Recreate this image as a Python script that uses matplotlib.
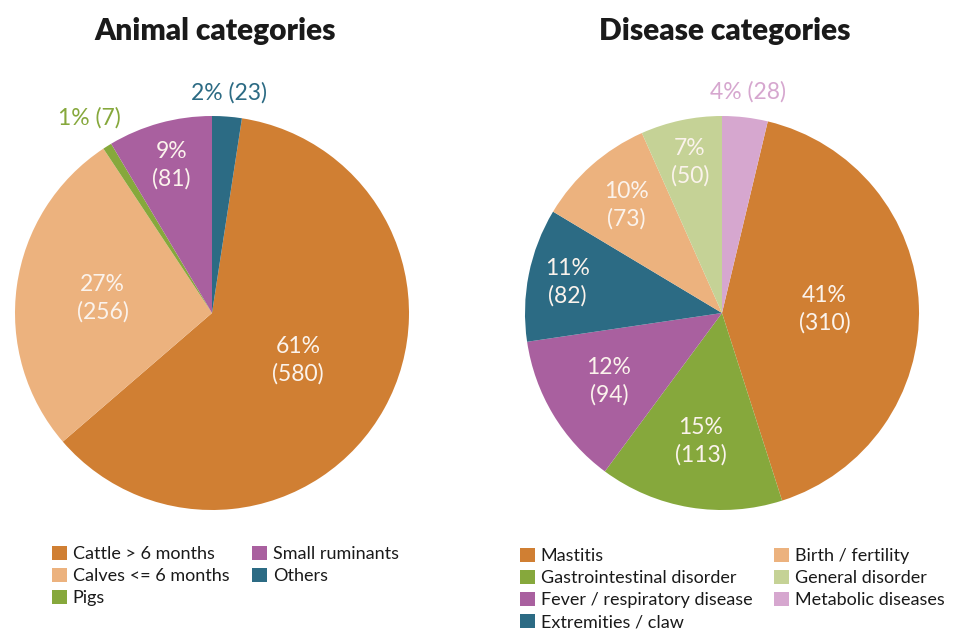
import numpy as np
import matplotlib
matplotlib.use("Agg")
import matplotlib.pyplot as plt

plt.rcParams['font.family'] = ['Lato', 'DejaVu Sans']

# ---- data ----
animal_labels = ["Cattle > 6 months", "Calves <= 6 months", "Pigs", "Small ruminants", "Others"]
animal_counts = [580, 256, 7, 81, 23]
animal_pcts = [61, 27, 1, 9, 2]

disease_labels = ["Mastitis", "Gastrointestinal disorder", "Fever / respiratory disease",
                  "Extremities / claw", "Birth / fertility", "General disorder", "Metabolic diseases"]
disease_counts = [310, 113, 94, 82, 73, 50, 28]
disease_pcts = [41, 15, 12, 11, 10, 7, 4]

# ---- styles ----
ORANGE = "#D07F33"
LORANGE = "#ECB27E"
GREEN = "#86A83C"
MAGENTA = "#A9609F"
TEAL = "#2C6B84"
LGREEN = "#C5D296"
PINK = "#D6A7CF"
WHITE = "#FBF3EC"

animal_colors = [ORANGE, LORANGE, GREEN, MAGENTA, TEAL]
animal_dist = [0.50, 0.56, 1.17, 0.78, 1.12]
animal_outside = [False, False, True, False, True]

disease_colors = [ORANGE, GREEN, MAGENTA, TEAL, LORANGE, LGREEN, PINK]
disease_dist = [0.52, 0.66, 0.67, 0.80, 0.73, 0.78, 1.13]
disease_outside = [False, False, False, False, False, False, True]

W, H = 955, 630
fig = plt.figure(figsize=(W / 100, H / 100), dpi=100)
fig.patch.set_facecolor("white")

R = 197


def make_ax(cx, cy):
    return fig.add_axes([(cx - R) / W, (H - cy - R) / H, 2 * R / W, 2 * R / H])


def draw_pie(ax, counts, pcts, colors, dist, outside, last_count_first):
    total = sum(counts)
    start = 90 - last_count_first / total * 360
    wedges, _ = ax.pie(counts, colors=colors, startangle=start, counterclock=False,
                       radius=1.0, wedgeprops=dict(linewidth=0))
    for w, n, p, d, out, c in zip(wedges, counts, pcts, dist, outside, colors):
        mid = np.deg2rad((w.theta1 + w.theta2) / 2)
        x, y = d * np.cos(mid), d * np.sin(mid)
        if out:
            ax.text(x, y, f"{p}% ({n})", ha="center", va="center", fontsize=16.5,
                    color=c, linespacing=1.3)
        else:
            ax.text(x, y, f"{p}%\n({n})", ha="center", va="center", fontsize=16.5,
                    color=WHITE, linespacing=1.35)
    ax.set_xlim(-1, 1)
    ax.set_ylim(-1, 1)
    ax.set_aspect("equal")
    ax.axis("off")
    return wedges


ax1 = make_ax(212, 313)
w1 = draw_pie(ax1, animal_counts, animal_pcts, animal_colors, animal_dist, animal_outside,
              animal_counts[-1])
ax2 = make_ax(722, 313)
w2 = draw_pie(ax2, disease_counts, disease_pcts, disease_colors, disease_dist, disease_outside,
              disease_counts[-1])

fig.text(215 / W, 1 - 31 / H, "Animal categories", ha="center", va="center",
         fontsize=21.5, fontweight="heavy", color="#1a1a1a")
fig.text(725 / W, 1 - 31 / H, "Disease categories", ha="center", va="center",
         fontsize=21.5, fontweight="heavy", color="#1a1a1a")

leg_kw = dict(frameon=False, ncol=2, fontsize=13, handlelength=0.85, handleheight=0.8,
              handletextpad=0.3, labelspacing=0.33, borderpad=0, borderaxespad=0,
              loc="upper left", labelcolor="#1a1a1a")
fig.legend(w1, animal_labels, bbox_to_anchor=(52 / W, 1 - 546 / H), columnspacing=1.25, **leg_kw)
fig.legend(w2, disease_labels, bbox_to_anchor=(520 / W, 1 - 548 / H), columnspacing=1.2, **leg_kw)

fig.savefig("out.png", dpi=100, facecolor="white")
